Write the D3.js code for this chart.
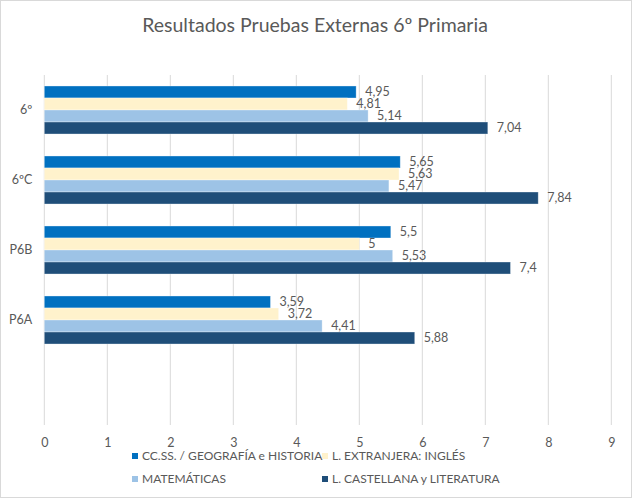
<!DOCTYPE html>
<html>
<head>
<meta charset="utf-8">
<script src="https://cdn.jsdelivr.net/npm/d3@7"></script>
<style>
  body { margin: 0; background: #fff; }
  text { font-family: Lato, "Liberation Sans", sans-serif; fill: #595959; }
</style>
</head>
<body>
<svg id="chart" width="633" height="499"></svg>
<script>
// Categories top to bottom (Excel leaves an empty slot at the bottom).
const groups = ["6º", "6ºC", "P6B", "P6A", ""];
const seriesNames = [
    "CC.SS. / GEOGRAFÍA e HISTORIA",
    "L. EXTRANJERA: INGLÉS",
    "MATEMÁTICAS",
    "L. CASTELLANA y LITERATURA"
];
const ccss = [4.95, 5.65, 5.5, 3.59];
const ingles = [4.81, 5.63, 5, 3.72];
const mate = [5.14, 5.47, 5.53, 4.41];
const castellana = [7.04, 7.84, 7.4, 5.88];
const xTicks = [0, 1, 2, 3, 4, 5, 6, 7, 8, 9];
const colors = ["#0070C0", "#FFF2CC", "#9DC3E6", "#1F4E79"];

const seriesValues = [ccss, ingles, mate, castellana];
const svg = d3.select("#chart");

// chart frame
svg.append("rect")
    .attr("x", 0.5).attr("y", 0.5)
    .attr("width", 631).attr("height", 497)
    .attr("fill", "#fff")
    .attr("stroke", "#D9D9D9");

svg.append("text")
    .attr("x", 315).attr("y", 32)
    .attr("text-anchor", "middle")
    .style("font-size", "19.5px")
    .text("Resultados Pruebas Externas 6º Primaria");

const xScale = d3.scaleLinear()
    .domain([0, 9])
    .range([44.3, 611.3]);

const yScale = d3.scaleBand()
    .domain(groups)
    .range([75, 425])
    .paddingInner(0.314)
    .paddingOuter(0.157);

const subScale = d3.scaleBand()
    .domain(d3.range(seriesNames.length))
    .range([0, yScale.bandwidth()]);

// gridlines
svg.append("g")
    .selectAll("line")
    .data(xTicks)
    .join("line")
    .attr("x1", d => xScale(d)).attr("x2", d => xScale(d))
    .attr("y1", 75).attr("y2", 425)
    .attr("stroke", "#D9D9D9")
    .attr("stroke-width", 1);

// x axis labels
const xAxis = d3.axisBottom(xScale)
    .tickValues(xTicks)
    .tickSize(0)
    .tickPadding(13)
    .tickFormat(d3.format("d"));

svg.append("g")
    .attr("transform", "translate(0,425)")
    .call(xAxis)
    .call(g => g.select(".domain").remove())
    .call(g => g.selectAll("text")
        .style("font-size", "12.5px")
        .style("font-family", "Lato, 'Liberation Sans', sans-serif")
        .attr("fill", "#595959"));

// y axis labels
const yAxis = d3.axisLeft(yScale)
    .tickSize(0)
    .tickPadding(12);

svg.append("g")
    .attr("transform", `translate(${xScale(0)},0)`)
    .call(yAxis)
    .call(g => g.select(".domain").remove())
    .call(g => g.selectAll("text")
        .style("font-size", "12.5px")
        .style("font-family", "Lato, 'Liberation Sans', sans-serif")
        .attr("fill", "#595959"));

// bars and value labels
seriesValues.forEach((vals, si) => {
    const g = svg.append("g");
    const rows = vals.map((v, i) => ({group: groups[i], value: v}));

    g.selectAll("rect")
        .data(rows)
        .join("rect")
        .attr("x", xScale(0))
        .attr("y", d => yScale(d.group) + subScale(si))
        .attr("width", d => xScale(d.value) - xScale(0))
        .attr("height", subScale.bandwidth())
        .attr("fill", colors[si])
        .attr("stroke", "#fff")
        .attr("stroke-opacity", 0.45)
        .attr("stroke-width", 0.75);

    g.selectAll("text")
        .data(rows)
        .join("text")
        .attr("x", d => xScale(d.value) + 9)
        .attr("y", d => yScale(d.group) + subScale(si) + subScale.bandwidth() / 2)
        .attr("dy", "0.35em")
        .style("font-size", "12.5px")
        .text(d => d3.format(".2~f")(d.value).replace(".", ","));
});

// legend
const legendPos = [[132, 456], [322, 456], [132, 479], [322, 479]];
const legend = svg.append("g")
    .selectAll("g")
    .data(seriesNames)
    .join("g")
    .attr("transform", (d, i) => `translate(${legendPos[i][0]},${legendPos[i][1]})`);

legend.append("rect")
    .attr("x", 0).attr("y", -3)
    .attr("width", 6).attr("height", 6)
    .attr("fill", (d, i) => colors[i]);

legend.append("text")
    .attr("x", 10).attr("y", 0)
    .attr("dy", "0.35em")
    .style("font-size", "12px")
    .text(d => d);
</script>
</body>
</html>
